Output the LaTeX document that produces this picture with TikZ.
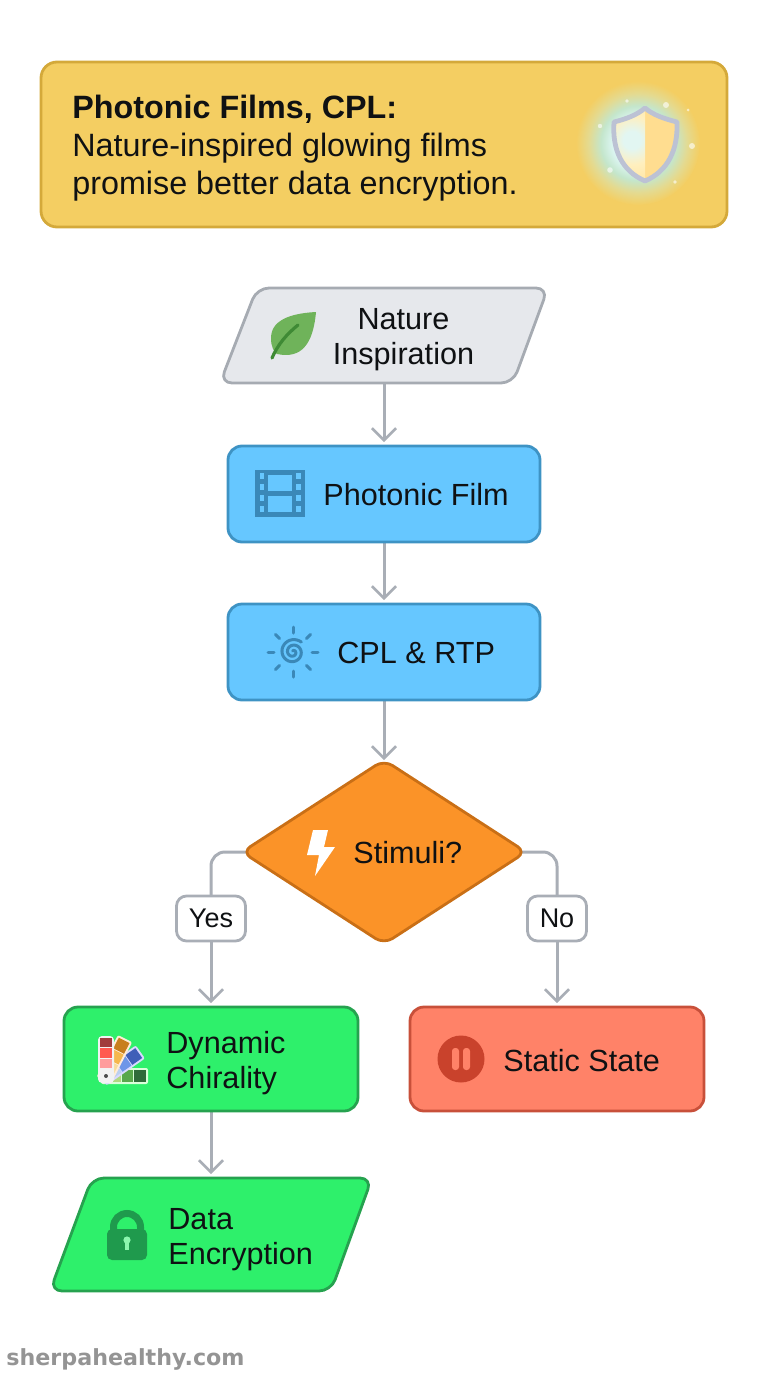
\documentclass[tikz,border=0pt]{standalone}
\usepackage{fontspec}
\setmainfont{Liberation Sans}
\newfontfamily\wmfont{DejaVu Sans}
\usetikzlibrary{shapes.geometric,arrows.meta,backgrounds}
\definecolor{ink}{HTML}{0F1113}
\definecolor{wire}{HTML}{A9AEB6}
\definecolor{bannerfill}{HTML}{F4CE62}
\definecolor{bannerline}{HTML}{D4A93A}
\definecolor{greyfill}{HTML}{E6E8EC}
\definecolor{greyline}{HTML}{A6ABB2}
\definecolor{bluefill}{HTML}{66C7FF}
\definecolor{blueline}{HTML}{3E93C4}
\definecolor{blueicon}{HTML}{3A88B8}
\definecolor{orangefill}{HTML}{FB9328}
\definecolor{orangeline}{HTML}{C96F16}
\definecolor{greenfill}{HTML}{2EF06B}
\definecolor{greenline}{HTML}{26A24F}
\definecolor{greenicon}{HTML}{1F9A4D}
\definecolor{redfill}{HTML}{FF8268}
\definecolor{redline}{HTML}{C8503A}
\definecolor{redicon}{HTML}{C9422C}
\definecolor{glowa}{HTML}{DDF6F4}
\definecolor{glowb}{HTML}{C4E6CC}
\definecolor{glowc}{HTML}{E4DA90}
\definecolor{shielda}{HTML}{E2F6F2}
\definecolor{shieldb}{HTML}{FFEFBE}
\definecolor{shieldc}{HTML}{FFE6A4}
\definecolor{shieldd}{HTML}{FFDD90}
\definecolor{shieldedge}{HTML}{BCC2D4}
\definecolor{leafgreen}{HTML}{6FB35A}
\definecolor{leafdark}{HTML}{3F8A35}
\definecolor{palA}{HTML}{58A84C}
\definecolor{palB}{HTML}{B0D880}
\definecolor{palD}{HTML}{2F6B3A}
\definecolor{palE}{HTML}{BBD0F0}
\definecolor{palF}{HTML}{6E96E8}
\definecolor{palG}{HTML}{3F5FB8}
\definecolor{palH}{HTML}{F8DC9A}
\definecolor{palI}{HTML}{F5B84E}
\definecolor{palJ}{HTML}{C87F1E}
\definecolor{palK}{HTML}{A03C3C}
\definecolor{palL}{HTML}{FF5A50}
\definecolor{palM}{HTML}{FF9C9C}
\pgfdeclareradialshading{haloshade}{\pgfpoint{0bp}{0bp}}{color(0bp)=(glowa);color(10bp)=(glowa);color(15bp)=(glowb);color(20bp)=(glowc);color(25bp)=(bannerfill);color(50bp)=(bannerfill)}
\pgfdeclareradialshading{innershade}{\pgfpoint{0bp}{0bp}}{color(0bp)=(shielda);color(5bp)=(shielda);color(14bp)=(shieldb);color(25bp)=(shieldc);color(50bp)=(shieldc)}
\newcommand{\shieldoutline}{(645,108) .. controls (653,115) and (665,119) .. (677,122) .. controls (678,150) and (668,171) .. (645,181) .. controls (622,171) and (612,150) .. (614,122) .. controls (626,119) and (637,115) .. (645,108) -- cycle}
\tikzset{
  x=0.5pt,y=-0.5pt,
  box/.style={draw,rounded corners=7pt,line width=1.4pt,inner sep=0pt,outer sep=0pt},
  slant/.style={rounded corners=6pt,line width=1.4pt,line join=round},
  anchorbox/.style={inner sep=0pt,outer sep=0pt},
  label/.style={font=\fontsize{15.3}{17.5}\selectfont,text=ink,inner sep=0pt},
  tag/.style={draw=wire,fill=white,line width=1.4pt,rounded corners=5pt,inner sep=0pt,outer sep=0pt,minimum height=22.5pt,font=\fontsize{13.5}{16}\selectfont,text=ink},
  wirepath/.style={draw=wire,line width=1.5pt,rounded corners=7pt},
  arrowpath/.style={wirepath,-{Straight Barb[length=6pt,width=12pt,line width=1.3pt]},shorten >=2pt},
}
\begin{document}
\begin{tikzpicture}
\useasboundingbox (0,0) rectangle (768,1376);

% banner
\node[box,draw=bannerline,fill=bannerfill,rounded corners=8pt,minimum width=343pt,minimum height=82.5pt] (banner) at (384,144.5) {};
\node[font=\fontsize{16.15}{19}\selectfont,text=ink,align=left,anchor=west,inner sep=0pt] (title) at (72,148) {\textbf{Photonic Films, CPL:}\\Nature-inspired glowing films\\promise better data encryption.};
\shade[shading=haloshade] (638,143) circle (62);
\foreach \sx/\sy/\sr in {627/101/1.8,666/105/3,688/110/1.5,600/126/2.2,692/146/3,610/170/2.8,675/182/1.8}
  \fill[white,opacity=.6] (\sx,\sy) circle (\sr);
\begin{scope}
  \clip \shieldoutline;
  \fill[shieldd] (600,100) rectangle (690,190);
  \begin{scope}
    \clip (600,100) rectangle (645,190);
    \shade[shading=innershade] (632,140) circle (44);
  \end{scope}
\end{scope}
\draw[draw=shieldedge,line width=2.4pt,line join=round] \shieldoutline;

% nodes
\node[anchorbox,minimum width=164pt,minimum height=47.5pt] (nature) at (384,335.5) {};
\draw[slant,draw=greyline,fill=greyfill] (257,288) -- (548,288) -- (513,383) -- (220,383) -- cycle;
\node[box,draw=blueline,fill=bluefill,minimum width=156pt,minimum height=48pt] (film) at (384,494) {};
\node[box,draw=blueline,fill=bluefill,minimum width=156pt,minimum height=48pt] (cpl) at (384,652) {};
\node[diamond,draw=orangeline,fill=orangefill,line width=1.4pt,rounded corners=5pt,inner sep=0pt,outer sep=0pt,aspect=1.54,minimum width=142pt,minimum height=92pt] (stim) at (384,852) {};
\node[box,draw=greenline,fill=greenfill,minimum width=147pt,minimum height=52pt] (chir) at (211,1059) {};
\node[box,draw=redline,fill=redfill,minimum width=147pt,minimum height=52pt] (static) at (557,1059) {};
\node[anchorbox,minimum width=160pt,minimum height=56.5pt] (data) at (211,1234.5) {};
\draw[slant,draw=greenline,fill=greenfill] (92,1178) -- (372,1178) -- (331,1291) -- (50,1291) -- cycle;
\node[tag,minimum width=34.5pt] (yes) at (211,918.5) {Yes};
\node[tag,minimum width=29.5pt] (no) at (557,918.5) {No};

% connectors
\begin{pgfonlayer}{background}
\draw[arrowpath] (nature.south) -- (film.north);
\draw[arrowpath] (film.south) -- (cpl.north);
\draw[arrowpath,shorten >=0pt] (cpl.south) -- (stim.north);
\draw[wirepath] (stim.center) -| (yes.north);
\draw[wirepath] (stim.center) -| (no.north);
\draw[arrowpath] (yes.south) -- (chir.north);
\draw[arrowpath] (no.south) -- (static.north);
\draw[arrowpath] (chir.south) -- (data.north);
\end{pgfonlayer}

% labels
\node[label,align=center] (naturetext) at (403.5,340) {Nature\\Inspiration};
\node[label,anchor=base west] (filmtext) at (323,505) {Photonic Film};
\node[label,anchor=base west] (cpltext) at (337,663) {CPL \& RTP};
\node[label,anchor=base west] (stimtext) at (353,863) {Stimuli?};
\node[label,align=left,anchor=west] (chirtext) at (166,1063) {Dynamic\\Chirality};
\node[label,anchor=base west] (statictext) at (503,1071) {Static State};
\node[label,align=left,anchor=west] (datatext) at (168,1240) {Data\\Encryption};
\node[font=\wmfont\bfseries\fontsize{11.1}{13}\selectfont,text=black!42,anchor=base west,inner sep=0pt] (mark) at (6,1365) {sherpahealthy.com};

% leaf icon
\fill[leafgreen] (316,312) .. controls (298,313) and (271,317) .. (271,338) .. controls (271,347) and (274,352) .. (277,354) .. controls (301,359) and (313,345) .. (316,312) -- cycle;
\draw[draw=leafdark,line width=1.6pt,line cap=round] (272,358) .. controls (278,344) and (287,334) .. (298,325);

% film icon
\fill[blueicon] (255,470) rectangle (305,517);
\foreach \hy in {476,487,498,509} {
  \fill[bluefill] (259.5,\hy-3) rectangle (264,\hy+2.5);
  \fill[bluefill] (296,\hy-3) rectangle (300.5,\hy+2.5);
}
\fill[bluefill] (268,475) rectangle (292,491);
\fill[bluefill] (268,496) rectangle (292,512);

% spiral-sun icon
\foreach \a in {0,45,...,315}
  \draw[draw=blueicon,line width=1.5pt,line cap=round] ({293+19*cos(\a)},{652+19*sin(\a)}) -- ({293+25*cos(\a)},{652+25*sin(\a)});
\draw[draw=blueicon,line width=1.5pt,line cap=round] plot[domain=0:780,samples=70,smooth] ({293+(1+12*\x/780)*cos(\x+250)},{652+(1+12*\x/780)*sin(\x+250)});

% bolt icon
\fill[white] (313,830) -- (328,830) -- (324,847) -- (335,847) -- (315,876) -- (319,855) -- (307,855) -- cycle;

% palette icon
\begin{scope}[shift={(106,1076)},rotate=-90]
  \fill[white!85!green,rounded corners=1pt] (-8,5) rectangle (8,-42);
  \fill[palB] (-6,-4) rectangle (6,-15);
  \fill[palA] (-6,-16) rectangle (6,-27);
  \fill[palD] (-6,-28) rectangle (6,-40);
\end{scope}
\begin{scope}[shift={(106,1076)},rotate=-55]
  \fill[white!85!blue,rounded corners=1pt] (-8,5) rectangle (8,-42);
  \fill[palE] (-6,-4) rectangle (6,-15);
  \fill[palF] (-6,-16) rectangle (6,-27);
  \fill[palG] (-6,-28) rectangle (6,-40);
\end{scope}
\begin{scope}[shift={(106,1076)},rotate=-27]
  \fill[white!85!orange,rounded corners=1pt] (-8,5) rectangle (8,-42);
  \fill[palH] (-6,-4) rectangle (6,-15);
  \fill[palI] (-6,-16) rectangle (6,-27);
  \fill[palJ] (-6,-28) rectangle (6,-40);
\end{scope}
\fill[black!5,rounded corners=2pt] (98,1036) rectangle (114,1083);
\fill[palK] (100,1038) rectangle (112,1047);
\fill[palL] (100,1048) rectangle (112,1058);
\fill[palM] (100,1059) rectangle (112,1068);
\fill[black!70] (106,1076) circle (2);

% lock icon
\draw[draw=greenicon,line width=3.5pt] (113.5,1235) -- (113.5,1227) arc[start angle=180,end angle=360,radius=13.5] -- (140.5,1235);
\fill[greenicon,rounded corners=2.5pt] (107,1229) rectangle (147,1260);
\fill[greenfill!55!white] (127,1240) circle (3.6);
\fill[greenfill!55!white] (125.3,1241) rectangle (128.7,1250);

% pause icon
\fill[redicon] (461,1059) circle (23.5);
\fill[redfill,rounded corners=1.5pt] (452,1048) rectangle (459,1070);
\fill[redfill,rounded corners=1.5pt] (463,1048) rectangle (470,1070);
\end{tikzpicture}
\end{document}
